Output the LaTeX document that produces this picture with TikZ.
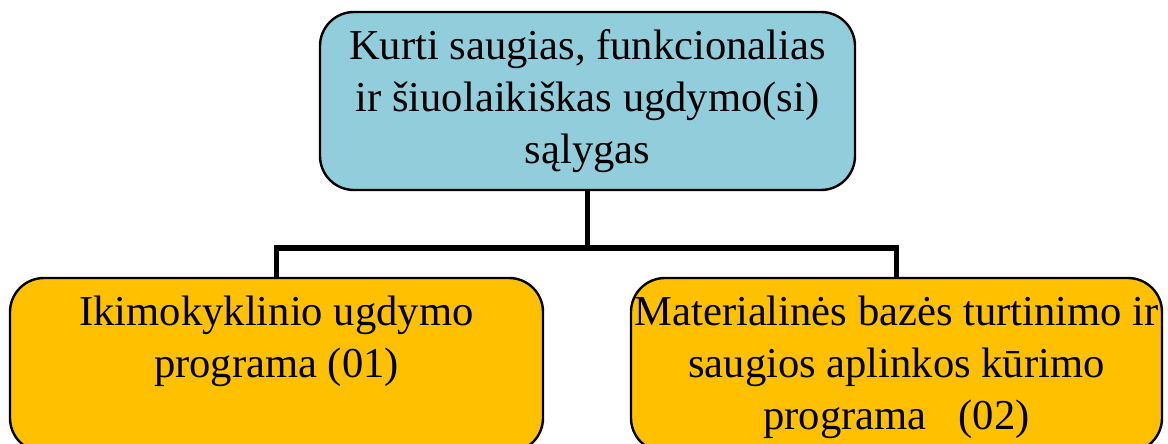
\documentclass[tikz,border=0pt]{standalone}
\usepackage{fontspec}
\setmainfont{Liberation Serif}
\usetikzlibrary{positioning,calc}
\definecolor{goalblue}{HTML}{92CDDC}
\definecolor{progorange}{HTML}{FFC000}
\tikzset{font=\fontsize{21.3}{26}\selectfont}
\tikzset{
	box/.style={draw=black, line width=1.2pt, rounded corners=17pt, inner sep=0pt},
	link/.style={draw=black, line width=2.6pt},
}

\begin{document}
\begin{tikzpicture}[x=0.5pt, y=-0.5pt]
	\useasboundingbox (0,0) rectangle (1168,444);
	\clip (0,0) rectangle (1168,444);
	\begin{scope}
		\tikzstyle{every node}=[align=center]
		\node[box, fill=goalblue, minimum width=267.5pt, minimum height=89pt] (goal) at (587.5, 101) {Kurti saugias, funkcionalias \\ ir šiuolaikiškas ugdymo(si) \\ sąlygas};

		\node[box, fill=progorange, minimum width=266.5pt, minimum height=87pt] (prog1) at (276.5, 365) {};
		\node[box, fill=progorange, minimum width=265.5pt, minimum height=87pt] (prog2) at (896.5, 365) {};

		\node[inner sep=0pt, below=9.5pt of prog1.north] (prog1text) {Ikimokyklinio ugdymo \\ programa (01)};
		\node[inner sep=0pt, below=9.5pt of prog2.north] (prog2text) {Materialinės bazės turtinimo ir \\ saugios aplinkos kūrimo \\ programa \ \ (02)};

		\coordinate (bus) at (587.5, 248);
		\draw[link](goal.south) -- (bus);
		\draw[link](prog1.north) |- (bus) -| (prog2.north);
	\end{scope}
\end{tikzpicture}
\end{document}
